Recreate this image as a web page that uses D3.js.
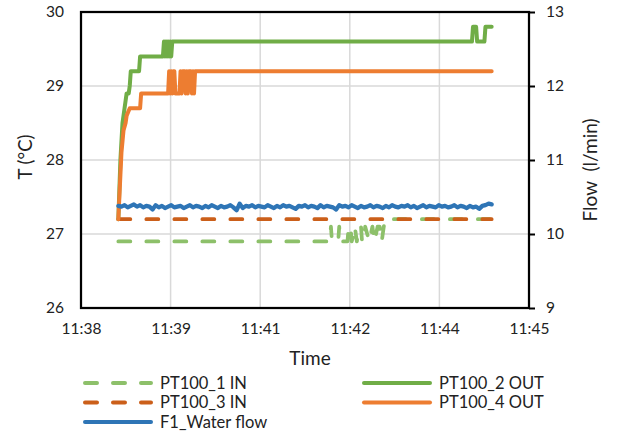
<!DOCTYPE html>
<html>
<head>
<meta charset="utf-8">
<script src="https://cdn.jsdelivr.net/npm/d3@7"></script>
<style>
  body { margin: 0; background: #fff; }
  svg { display: block; font-family: Lato, "Open Sans", sans-serif; }
</style>
</head>
<body>
<svg id="chart" width="617" height="434"></svg>
<script>
// time axis in seconds since midnight (11:38:24 .. 11:45:36, step 0.001 day)
const xTicks = [41904, 41990.4, 42076.8, 42163.2, 42249.6, 42336];
const xTickLabels = ['11:38', '11:39', '11:41', '11:42', '11:44', '11:45'];
const tempTicks = [26, 27, 28, 29, 30];
const flowTicks = [9, 10, 11, 12, 13];

// data starts at 11:39:00, t = seconds after that
const startTime = 41940;

// [t, °C]
const pt100_1_in = [
  [0, 26.9], [204, 26.9], [205, 27.1], [206, 26.9], [212, 26.9], [213, 27.1], [214, 26.9],
  [221, 26.9], [222, 27.1], [224, 27.1], [225, 26.9], [227, 27.0], [228, 27.1], [230, 26.9],
  [232, 27.1], [234, 27.1], [235, 26.9], [237, 26.9], [238, 27.1], [240, 27.0], [242, 26.9],
  [245, 27.1], [247, 26.9], [250, 27.1], [252, 27.1], [254, 26.9], [256, 27.1], [257, 27.2],
  [360, 27.2]
];
const pt100_2_out = [
  [0, 27.2], [2, 28.0], [4, 28.5], [6, 28.7], [7, 28.8], [8, 28.9], [10, 28.9], [11, 29.0],
  [12, 29.2], [20, 29.2], [21, 29.4], [43, 29.4], [44, 29.6], [45, 29.4], [46, 29.6],
  [47, 29.4], [48, 29.6], [49, 29.4], [50, 29.6], [51, 29.4], [52, 29.6], [341, 29.6],
  [342, 29.8], [345, 29.8], [346, 29.6], [353, 29.6], [354, 29.8], [360, 29.8]
];
const pt100_3_in = [[0, 27.2], [360, 27.2]];
const pt100_4_out = [
  [0, 27.2], [2, 27.8], [3, 28.1], [5, 28.4], [7, 28.5], [8, 28.6], [11, 28.7], [21, 28.7],
  [22, 28.9], [48, 28.9], [49, 29.2], [50, 28.9], [51, 29.2], [52, 28.9], [53, 29.2],
  [54, 29.2], [55, 28.9], [59, 28.9], [60, 29.2], [61, 28.9], [62, 29.2], [64, 29.2],
  [65, 28.9], [66, 29.2], [67, 28.9], [68, 29.2], [70, 29.2], [71, 28.9], [72, 29.2],
  [73, 28.9], [74, 29.2], [360, 29.2]
];

// F1 water flow (l/min), one reading every 3 s from t = 0
const flowStep = 3;
const flowValues = [
  10.38, 10.37, 10.39, 10.36, 10.38, 10.40, 10.37, 10.39, 10.36, 10.38,
  10.37, 10.33, 10.39, 10.36, 10.38, 10.35, 10.37, 10.39, 10.36, 10.37,
  10.38, 10.35, 10.37, 10.39, 10.36, 10.38, 10.37, 10.35, 10.38, 10.36,
  10.39, 10.37, 10.35, 10.38, 10.36, 10.37, 10.39, 10.36, 10.32, 10.41,
  10.35, 10.38, 10.37, 10.39, 10.36, 10.38, 10.37, 10.36, 10.39, 10.37,
  10.35, 10.38, 10.36, 10.39, 10.37, 10.38, 10.36, 10.34, 10.38, 10.37,
  10.39, 10.36, 10.38, 10.37, 10.35, 10.39, 10.36, 10.38, 10.37, 10.36,
  10.33, 10.39, 10.37, 10.38, 10.36, 10.39, 10.37, 10.35, 10.38, 10.36,
  10.37, 10.39, 10.36, 10.38, 10.37, 10.35, 10.38, 10.36, 10.39, 10.37,
  10.36, 10.38, 10.37, 10.39, 10.36, 10.38, 10.35, 10.37, 10.39, 10.36,
  10.38, 10.37, 10.36, 10.39, 10.37, 10.38, 10.36, 10.37, 10.39, 10.36,
  10.38, 10.37, 10.35, 10.38, 10.36, 10.37, 10.34, 10.38, 10.39, 10.41, 10.40
];

const plot = { left: 81, right: 529, top: 12, bottom: 308 };
const dash = '12 16';

const series = [
  { name: 'PT100_1 IN', data: pt100_1_in, color: '#8DC06A', dashed: true },
  { name: 'PT100_2 OUT', data: pt100_2_out, color: '#70AD47', dashed: false },
  { name: 'PT100_3 IN', data: pt100_3_in, color: '#CB5F1A', dashed: true },
  { name: 'PT100_4 OUT', data: pt100_4_out, color: '#ED7D31', dashed: false }
];
const flowSeries = { name: 'F1_Water flow', color: '#2E75B6' };

const svg = d3.select('#chart');

const x = d3.scaleLinear().domain([xTicks[0], xTicks[xTicks.length - 1]]).range([plot.left, plot.right]);
const yT = d3.scaleLinear().domain([26, 30]).range([plot.bottom, plot.top]);
const yF = d3.scaleLinear().domain([9, 13]).range([plot.bottom, plot.top]);

// gridlines
svg.append('g')
  .selectAll('line.h')
  .data(tempTicks.slice(1, -1))
  .enter()
  .append('line')
  .attr('x1', plot.left).attr('x2', plot.right)
  .attr('y1', (d) => yT(d)).attr('y2', (d) => yT(d))
  .attr('stroke', '#D9D9D9').attr('stroke-width', 1.5);

svg.append('g')
  .selectAll('line.v')
  .data(xTicks.slice(1, -1))
  .enter()
  .append('line')
  .attr('x1', (d) => x(d)).attr('x2', (d) => x(d))
  .attr('y1', plot.top).attr('y2', plot.bottom)
  .attr('stroke', '#D9D9D9').attr('stroke-width', 1.5);

// axes
const leftAxis = svg.append('g')
  .attr('transform', `translate(${plot.left},0)`)
  .call(d3.axisLeft(yT).tickValues(tempTicks).tickSize(0).tickPadding(17).tickFormat(d3.format('d')));

const rightAxis = svg.append('g')
  .attr('transform', `translate(${plot.right},0)`)
  .call(d3.axisRight(yF).tickValues(flowTicks).tickSize(6).tickPadding(11).tickFormat(d3.format('d')));

const bottomAxis = svg.append('g')
  .attr('transform', `translate(0,${plot.bottom})`)
  .call(d3.axisBottom(x).tickValues(xTicks).tickSize(0).tickPadding(15)
    .tickFormat((d, i) => xTickLabels[i]));

[leftAxis, rightAxis, bottomAxis].forEach((g) => {
  g.select('.domain').remove();
  g.selectAll('text').attr('font-family', 'Lato, sans-serif').attr('font-size', 15.5).attr('fill', '#222');
  g.selectAll('.tick line').attr('stroke', '#000').attr('stroke-width', 2);
});

// plot frame
svg.append('rect')
  .attr('x', plot.left).attr('y', plot.top)
  .attr('width', plot.right - plot.left).attr('height', plot.bottom - plot.top)
  .attr('fill', 'none').attr('stroke', '#000').attr('stroke-width', 2.25);

// axis titles
svg.append('text')
  .attr('transform', 'translate(32,157) rotate(-90)')
  .attr('text-anchor', 'middle')
  .attr('font-size', 18.5).attr('fill', '#222')
  .text('T (°C)');

svg.append('text')
  .attr('transform', 'translate(597,170) rotate(-90)')
  .attr('text-anchor', 'middle')
  .attr('font-size', 19).attr('fill', '#222')
  .style('white-space', 'pre')
  .text('Flow  (l/min)');

svg.append('text')
  .attr('x', 310).attr('y', 365)
  .attr('text-anchor', 'middle')
  .attr('font-size', 19).attr('fill', '#222')
  .text('Time');

// lines
const tempLine = d3.line()
  .x((d) => x(startTime + d[0]))
  .y((d) => yT(d[1]));

const flowLine = d3.line()
  .x((d, i) => x(startTime + i * flowStep))
  .y((d) => yF(d));

const lines = svg.append('g').attr('fill', 'none')
  .attr('stroke-linejoin', 'round').attr('stroke-linecap', 'round');

series.forEach((s) => {
  lines.append('path')
    .attr('d', tempLine(s.data))
    .attr('stroke', s.color)
    .attr('stroke-width', s.dashed ? 3.75 : 4)
    .attr('stroke-dasharray', s.dashed ? dash : null);
});

lines.append('path')
  .attr('d', flowLine(flowValues))
  .attr('stroke', flowSeries.color)
  .attr('stroke-width', 4.25);

// legend
const legendItems = [
  { s: series[0], col: 0, row: 0 },
  { s: series[1], col: 1, row: 0 },
  { s: series[2], col: 0, row: 1 },
  { s: series[3], col: 1, row: 1 },
  { s: flowSeries, col: 0, row: 2 }
];
const legendCols = [85, 364];
const legendRows = [383, 402.5, 422];

const legend = svg.append('g');
legendItems.forEach((item) => {
  const lx = legendCols[item.col];
  const ly = legendRows[item.row];
  legend.append('line')
    .attr('x1', lx).attr('x2', lx + 66)
    .attr('y1', ly).attr('y2', ly)
    .attr('stroke', item.s.color)
    .attr('stroke-width', 4)
    .attr('stroke-linecap', 'round')
    .attr('stroke-dasharray', item.s.dashed ? dash : null);
  legend.append('text')
    .attr('x', lx + 75).attr('y', ly)
    .attr('dy', '0.35em')
    .attr('font-size', 16.5).attr('fill', '#222')
    .text(item.s.name);
});
</script>
</body>
</html>
